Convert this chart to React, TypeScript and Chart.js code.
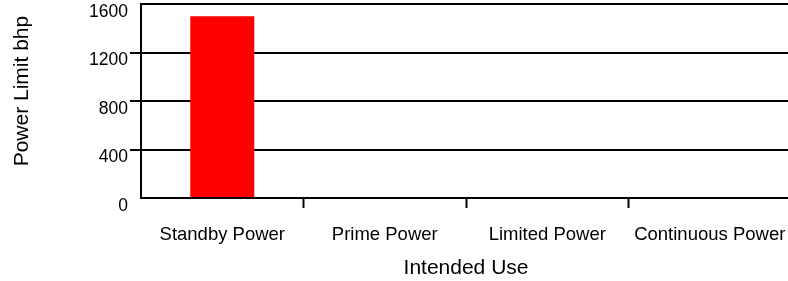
import { useEffect, useRef } from "react";
import { Chart, registerables } from "chart.js";

Chart.register(...registerables);

const categories = ["Standby Power", "Prime Power", "Limited Power", "Continuous Power"];
const powerLimit: (number | null)[] = [1500, null, null, null];
const yTickValues = [0, 400, 800, 1200, 1600];
const xTitle = "Intended Use";
const yTitle = "Power Limit bhp";

const FONT = "'Liberation Sans', Arial, Helvetica, sans-serif";
const CLEAR = "rgba(0,0,0,0)";
const Y_TITLE_SIZE = 21;
const Y_TITLE_PAD_OUTER = 9.4;
const Y_TITLE_SHIFT_UP = 10;

// Draws the y-axis title slightly above the axis centre, as in the reference.
const yTitlePlugin = {
  id: "yTitleShifted",
  afterDraw(chart: any) {
    const scale = chart.scales.y;
    const area = chart.chartArea;
    const ctx = chart.ctx;
    const lineHeight = Y_TITLE_SIZE * 1.2;
    const x = scale.left + Y_TITLE_PAD_OUTER + lineHeight / 2;
    const y = (area.top + area.bottom) / 2 - Y_TITLE_SHIFT_UP;
    ctx.save();
    ctx.translate(x, y);
    ctx.rotate(-Math.PI / 2);
    ctx.fillStyle = "#000";
    ctx.font = `${Y_TITLE_SIZE}px ${FONT}`;
    ctx.textAlign = "center";
    ctx.textBaseline = "middle";
    ctx.fillText(yTitle, 0, 0);
    ctx.restore();
  },
};

export default function App() {
  const ref = useRef<HTMLCanvasElement>(null);

  useEffect(() => {
    if (!ref.current) return;
    const yMin = yTickValues[0];
    const yMax = yTickValues[yTickValues.length - 1];
    const chart = new Chart(ref.current, {
      type: "bar",
      data: {
        labels: categories,
        datasets: [
          {
            data: powerLimit,
            backgroundColor: "#ff0000",
            borderWidth: 0,
            barPercentage: 0.394,
            categoryPercentage: 1,
          },
        ],
      },
      plugins: [yTitlePlugin],
      options: {
        responsive: false,
        animation: false,
        layout: { padding: { top: 0, right: 9, bottom: 0, left: 0 } },
        plugins: { legend: { display: false }, tooltip: { enabled: false } },
        scales: {
          x: {
            offset: true,
            grid: {
              offset: true,
              drawOnChartArea: false,
              drawTicks: true,
              tickLength: 10,
              tickWidth: 2,
              tickColor: (ctx: any) => (ctx.index === 0 ? CLEAR : "#000"),
            },
            border: { display: true, color: "#000", width: 2 },
            ticks: {
              color: "#000",
              font: { family: FONT, size: 18.5, lineHeight: 2.7 },
              padding: 2,
              maxRotation: 0,
              autoSkip: false,
            },
            title: {
              display: true,
              text: xTitle,
              color: "#000",
              font: { family: FONT, size: 21, lineHeight: 0.6 },
              padding: { top: 0, bottom: 6.5 },
            },
          },
          y: {
            min: yMin,
            max: yMax,
            afterBuildTicks: (scale: any) => {
              scale.ticks = yTickValues.map((v) => ({ value: v }));
            },
            grid: {
              color: "#000",
              lineWidth: 2,
              tickLength: 11,
              tickWidth: 2,
              tickColor: (ctx: any) =>
                ctx.tick && (ctx.tick.value === yMin || ctx.tick.value === yMax) ? CLEAR : "#000",
            },
            border: { display: true, color: "#000", width: 2 },
            ticks: {
              color: "#000",
              font: { family: FONT, size: 17.5, lineHeight: 0.25 },
              padding: 2,
              labelOffset: 8,
              callback: (v: any) => String(v),
            },
            title: {
              // space is reserved here; the visible text is drawn by yTitlePlugin
              display: true,
              text: yTitle,
              color: CLEAR,
              font: { family: FONT, size: Y_TITLE_SIZE },
              padding: { top: Y_TITLE_PAD_OUTER, bottom: 52.5 },
            },
          },
        },
      },
    });
    return () => chart.destroy();
  }, []);

  return (
    <div
      style={{
        position: "fixed",
        left: 0,
        top: 0,
        width: 788,
        height: 281,
        overflow: "hidden",
        background: "#fff",
      }}
    >
      <canvas ref={ref} width={800} height={281} style={{ width: 800, height: 281, display: "block" }} />
    </div>
  );
}
